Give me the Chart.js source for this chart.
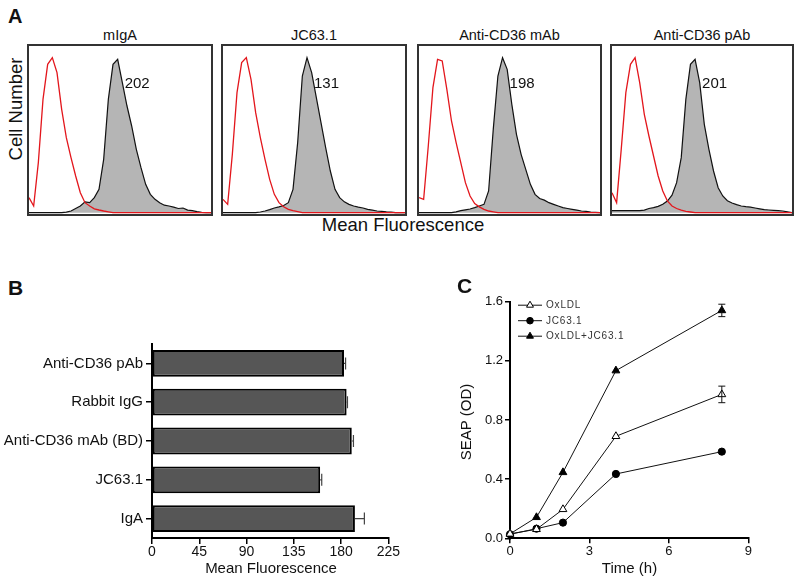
<!DOCTYPE html>
<html>
<head>
<meta charset="utf-8">
<script src="https://cdn.jsdelivr.net/npm/chart.js@4.4.1/dist/chart.umd.min.js"></script>
<style>
  body { margin: 0; background: #fff; }
  #page { position: relative; width: 800px; height: 583px; overflow: hidden;
          font-family: 'Liberation Sans', Arial, sans-serif; color: #111; }
  .txt { position: absolute; white-space: nowrap; line-height: 1; color: #111; }
  .box { position: absolute; top: 44px; height: 168px; border: 2px solid #333; }
  .box canvas, #cB, #cC { display: block; position: absolute; }
</style>
</head>
<body>
<div id="page">
  <canvas id="cB" width="400" height="250" style="left:0;top:330px"></canvas>
  <canvas id="cC" width="380" height="290" style="left:420px;top:280px"></canvas>
</div>
<script>
// ---------- panel A : flow cytometry histograms (40 channels, counts in % of panel height)
const histTitles = ['mIgA', 'JC63.1', 'Anti-CD36 mAb', 'Anti-CD36 pAb'];
const histMeans = ['202', '131', '198', '201'];

const controlMIgA = [
  9, 4, 30, 68, 89, 93, 84, 62, 45, 33,
  22, 12, 6, 4, 2.3, 1.6, 1, 0.5, 0, 0,
  0, 0, 0, 0, 0, 0, 0, 0, 0, 0,
  0, 0, 0, 0, 0, 0, 0, 0, 0, 0];
const stainedMIgA = [
  0, 0, 0, 0, 0, 0, 0, 0, 0.3, 1,
  2.5, 4, 6.5, 6, 9, 14, 32, 68, 89, 92,
  78, 64, 52, 38, 27, 17, 11, 8, 6, 4.5,
  4, 3.3, 2.5, 2.8, 1.5, 1.2, 0.6, 0.2, 0, 0];

const controlJC = [
  8, 5, 35, 72, 90, 93, 80, 60, 45, 32,
  20, 11, 6, 3.5, 2, 1.2, 0.6, 0, 0, 0,
  0, 0, 0, 0, 0, 0, 0, 0, 0, 0,
  0, 0, 0, 0, 0, 0, 0, 0, 0, 0];
const stainedJC = [
  0, 0, 0, 0, 0, 0, 0, 0, 0.4, 1,
  1.8, 2.8, 3.5, 4.3, 6, 14, 42, 82, 93, 84,
  69, 54, 39, 25, 14, 9, 6.5, 5, 4, 3.3,
  2.8, 2, 1.5, 1, 0.8, 0.5, 0.3, 0, 0, 0];

const controlMAb = [
  9, 8, 40, 75, 92, 91, 74, 55, 42, 30,
  18, 10, 5.5, 3.5, 2, 1, 0.5, 0, 0, 0,
  0, 0, 0, 0, 0, 0, 0, 0, 0, 0,
  0, 0, 0, 0, 0, 0, 0, 0, 0, 0];
const stainedMAb = [
  0, 0, 0, 0, 0, 0, 0, 0, 0.5, 1.2,
  1.7, 2.2, 3, 4, 5, 13, 50, 82, 93, 86,
  65, 47, 35, 26, 17, 11, 8.5, 7.5, 6, 5,
  4, 3, 2.5, 2, 1.5, 1, 0.8, 0.4, 0.2, 0];

const controlPAb = [
  12, 6, 38, 72, 89, 93, 78, 59, 46, 34,
  22, 13, 7, 4, 2.5, 1.5, 0.8, 0.4, 0, 0,
  0, 0, 0, 0, 0, 0, 0, 0, 0, 0,
  0, 0, 0, 0, 0, 0, 0, 0, 0, 0];
const stainedPAb = [
  1.2, 1.2, 1.2, 1.2, 1.2, 1.2, 1.2, 1.5, 2.5, 3,
  3.8, 5, 7, 10.5, 18, 33, 68, 89, 92, 78,
  53, 38, 25, 15, 10, 7.2, 5.8, 4.8, 4, 3.6,
  3.3, 2.8, 2.3, 1.8, 1.6, 1.4, 1.2, 1, 0.5, 0];

// ---------- panel B : mean fluorescence
const bLabels = ['Anti-CD36 pAb', 'Rabbit IgG', 'Anti-CD36 mAb (BD)', 'JC63.1', 'IgA'];
const bValues = [182.8, 185.3, 190.2, 160.1, 193.2];
const bErrors = [1.5, 0.8, 1.6, 1.5, 9];

// ---------- panel C : SEAP time course
const cTimes = [0, 1, 2, 4, 8];
const cOxLDL = [0.03, 0.061, 0.196, 0.69, 0.973];
const cOxLDLErr = [0, 0, 0, 0, 0.056];
const cJC = [0.027, 0.065, 0.106, 0.435, 0.586];
const cJCErr = [0, 0, 0, 0, 0];
const cBoth = [0.03, 0.142, 0.446, 1.134, 1.541];
const cBothErr = [0, 0, 0, 0, 0.042];

// ---------- layout
const FAMILY = "'Liberation Sans', Arial, sans-serif";
Chart.defaults.font.family = FAMILY;
Chart.defaults.color = '#111';
const page = document.getElementById('page');
const boxLeft = [27, 221, 417, 610];
const boxWidth = [186, 186, 185, 184];

function addText(text, x, top, size, opts = {}) {
  const d = document.createElement('div');
  d.className = 'txt';
  d.textContent = text;
  d.style.fontSize = size + 'px';
  if (opts.bold) d.style.fontWeight = 'bold';
  if (opts.center) {
    d.style.left = (x - 150) + 'px';
    d.style.width = '300px';
    d.style.textAlign = 'center';
  } else {
    d.style.left = x + 'px';
  }
  d.style.top = top + 'px';
  if (opts.rotate) {
    // even box height keeps the rotated text on whole pixels
    const h = 2 * Math.round(size / 2);
    d.style.height = h + 'px';
    d.style.lineHeight = h + 'px';
    d.style.top = (top - h / 2) + 'px';
    d.style.transform = 'rotate(-90deg)';
  }
  page.appendChild(d);
}

addText('A', 8, 5.7, 20, { bold: true });
addText('B', 8, 277, 21, { bold: true });
addText('C', 457, 275, 21, { bold: true });
addText('Cell Number', 16, 109, 18.5, { center: true, rotate: true });
addText('Mean Fluorescence', 403, 216, 18.5, { center: true });
addText('Mean Fluorescence', 271, 559.7, 15, { center: true });
addText('Time (h)', 629.5, 560, 15, { center: true });
addText('SEAP (OD)', 466, 422, 15, { center: true, rotate: true });

// mean value written to the right of the stained peak
const meanLabel = {
  id: 'meanLabel',
  afterDatasetsDraw(chart, args, opts) {
    const data = chart.data.datasets[1].data;
    const peak = data.indexOf(Math.max(...data));
    const x = chart.scales.x.getPixelForValue(peak) + 7;
    const y = chart.scales.y.getPixelForValue(75);
    const ctx = chart.ctx;
    ctx.save();
    ctx.font = '15px ' + FAMILY;
    ctx.fillStyle = '#111';
    ctx.textBaseline = 'alphabetic';
    ctx.fillText(opts.text, x, y);
    ctx.restore();
  }
};

const controls = [controlMIgA, controlJC, controlMAb, controlPAb];
const stained = [stainedMIgA, stainedJC, stainedMAb, stainedPAb];

histTitles.forEach((title, i) => {
  const box = document.createElement('div');
  box.className = 'box';
  box.style.left = boxLeft[i] + 'px';
  box.style.width = (boxWidth[i] - 4) + 'px';
  const cv = document.createElement('canvas');
  cv.width = boxWidth[i] - 4;
  cv.height = 168;
  box.appendChild(cv);
  page.appendChild(box);
  addText(title, boxLeft[i] + boxWidth[i] / 2, 27.6, 14.5, { center: true });

  new Chart(cv, {
    type: 'line',
    data: {
      labels: controls[i].map((v, k) => k),
      datasets: [
        { data: controls[i], borderColor: '#e3161c', borderWidth: 1.3, fill: false,
          pointRadius: 0, tension: 0 },
        { data: stained[i], borderColor: '#111', borderWidth: 1.2, fill: 'origin',
          backgroundColor: '#b5b5b5', pointRadius: 0, tension: 0 }
      ]
    },
    options: {
      responsive: false, animation: false,
      layout: { padding: 0 },
      plugins: { legend: { display: false }, tooltip: { enabled: false },
                 meanLabel: { text: histMeans[i] } },
      scales: {
        x: { display: false, offset: false },
        y: { display: false, min: -0.8, max: 100 }
      }
    },
    plugins: [meanLabel]
  });
});

// ---------- panel B chart
const errorBarsH = {
  id: 'errorBarsH',
  afterDatasetsDraw(chart) {
    const ds = chart.data.datasets[0];
    const meta = chart.getDatasetMeta(0);
    const xs = chart.scales.x;
    const ctx = chart.ctx;
    ctx.save();
    ctx.strokeStyle = '#444';
    ctx.lineWidth = 1.2;
    meta.data.forEach((bar, k) => {
      const x0 = xs.getPixelForValue(ds.data[k]);
      const x1 = xs.getPixelForValue(ds.data[k] + ds.errors[k]);
      ctx.beginPath();
      ctx.moveTo(x0, bar.y); ctx.lineTo(x1, bar.y);
      ctx.moveTo(x1, bar.y - 6); ctx.lineTo(x1, bar.y + 6);
      ctx.stroke();
    });
    ctx.restore();
  }
};

const axisGrid = { drawOnChartArea: false, color: '#000', lineWidth: 1.5 };
const axisBorder = { color: '#000', width: 2 };

new Chart(document.getElementById('cB'), {
  type: 'bar',
  data: {
    labels: bLabels,
    datasets: [{ data: bValues, errors: bErrors, backgroundColor: '#565656',
      borderColor: '#000', borderWidth: 2, borderSkipped: false,
      barPercentage: 0.69, categoryPercentage: 1 }]
  },
  options: {
    indexAxis: 'y', responsive: false, animation: false,
    layout: { padding: { top: 14, right: 10, left: 0, bottom: 0 } },
    plugins: { legend: { display: false }, tooltip: { enabled: false } },
    scales: {
      x: { min: 0, max: 225,
           ticks: { stepSize: 45, font: { size: 14 }, padding: 0, maxRotation: 0 },
           grid: { ...axisGrid, tickLength: 6 }, border: axisBorder,
           afterFit: s => { s.height = 42; } },
      y: { ticks: { font: { size: 15 }, padding: 3 },
           grid: { ...axisGrid, tickLength: 6, offset: false }, border: axisBorder,
           afterFit: s => { s.width = 152; } }
    }
  },
  plugins: [errorBarsH]
});

// ---------- panel C chart
function drawMarker(ctx, style, r, x, y) {
  ctx.beginPath();
  if (style === 'triangle') {
    ctx.moveTo(x, y - r);
    ctx.lineTo(x + r * 0.866, y + r * 0.5);
    ctx.lineTo(x - r * 0.866, y + r * 0.5);
    ctx.closePath();
  } else {
    ctx.arc(x, y, r, 0, Math.PI * 2);
  }
  ctx.fill();
  ctx.stroke();
}

const errorBarsV = {
  id: 'errorBarsV',
  afterDatasetsDraw(chart) {
    const ctx = chart.ctx;
    const xs = chart.scales.x, ys = chart.scales.y;
    ctx.save();
    ctx.strokeStyle = '#111';
    ctx.lineWidth = 1;
    chart.data.datasets.forEach(ds => {
      ds.data.forEach((p, k) => {
        const e = ds.errors[k];
        if (!e) return;
        const x = xs.getPixelForValue(p.x);
        const yt = ys.getPixelForValue(p.y + e), yb = ys.getPixelForValue(p.y - e);
        ctx.beginPath();
        ctx.moveTo(x, yt); ctx.lineTo(x, yb);
        ctx.moveTo(x - 3.5, yt); ctx.lineTo(x + 3.5, yt);
        ctx.moveTo(x - 3.5, yb); ctx.lineTo(x + 3.5, yb);
        ctx.stroke();
      });
    });
    ctx.restore();
  }
};

const insideLegend = {
  id: 'insideLegend',
  afterDraw(chart) {
    const { ctx, chartArea } = chart;
    ctx.save();
    chart.data.datasets.forEach((ds, k) => {
      const y = chartArea.top + 3.5 + k * 15.5;
      const x0 = chartArea.left + 8;
      ctx.strokeStyle = '#111';
      ctx.lineWidth = 1;
      ctx.beginPath(); ctx.moveTo(x0, y); ctx.lineTo(x0 + 24, y); ctx.stroke();
      ctx.fillStyle = ds.pointBackgroundColor;
      ctx.strokeStyle = ds.pointBorderColor;
      drawMarker(ctx, ds.pointStyle, ds.pointStyle === 'triangle' ? 4 : 3.3, x0 + 12, y);
      ctx.fillStyle = '#333';
      ctx.font = '10px ' + FAMILY;
      ctx.letterSpacing = '0.8px';
      ctx.textBaseline = 'middle';
      ctx.fillText(ds.label, x0 + 28, y + 0.5);
    });
    ctx.restore();
  }
};

function series(label, values, errors, style, fillColor) {
  return {
    label, errors,
    data: cTimes.map((t, k) => ({ x: t, y: values[k] })),
    pointStyle: style, pointRadius: style === 'triangle' ? 4.5 : 3.6,
    pointBackgroundColor: fillColor, pointBorderColor: '#000', pointBorderWidth: 1,
    borderColor: '#111', borderWidth: 1, tension: 0, clip: false
  };
}

new Chart(document.getElementById('cC'), {
  type: 'line',
  data: {
    datasets: [
      series('OxLDL', cOxLDL, cOxLDLErr, 'triangle', '#fff'),
      series('JC63.1', cJC, cJCErr, 'circle', '#000'),
      series('OxLDL+JC63.1', cBoth, cBothErr, 'triangle', '#000')
    ]
  },
  options: {
    responsive: false, animation: false,
    layout: { padding: { top: 21.7, right: 51.7, left: 0, bottom: 0 } },
    plugins: { legend: { display: false }, tooltip: { enabled: false } },
    scales: {
      x: { type: 'linear', min: 0, max: 9,
           ticks: { stepSize: 3, font: { size: 13 }, padding: 0 },
           grid: { ...axisGrid, tickLength: 5 }, border: axisBorder,
           afterFit: s => { s.height = 31.7; } },
      y: { min: 0, max: 1.6,
           ticks: { stepSize: 0.4, font: { size: 13 }, padding: 2, callback: v => v.toFixed(1) },
           grid: { ...axisGrid, tickLength: 5 }, border: axisBorder,
           afterFit: s => { s.width = 90; } }
    }
  },
  plugins: [errorBarsV, insideLegend]
});
</script>
</body>
</html>
